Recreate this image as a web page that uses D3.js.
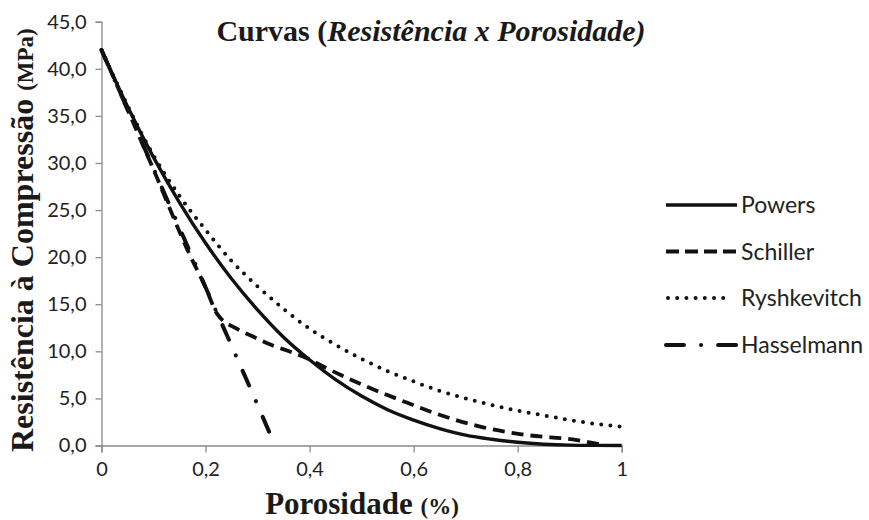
<!DOCTYPE html>
<html>
<head>
<meta charset="utf-8">
<script src="https://cdn.jsdelivr.net/npm/d3@7/dist/d3.min.js"></script>
<style>
  body { margin: 0; background: #fff; }
  svg { display: block; }
</style>
</head>
<body>
<svg id="chart" width="869" height="520"></svg>
<script>
// ---- data ----
const porosity = [0, 0.05, 0.1, 0.15, 0.2, 0.25, 0.3, 0.35, 0.4, 0.45, 0.5, 0.55, 0.6, 0.65, 0.7, 0.75, 0.8, 0.85, 0.9, 0.95, 1];
const powers = [42, 36.0, 30.6, 25.8, 21.5, 17.7, 14.4, 11.5, 9.1, 7.0, 5.25, 3.8, 2.7, 1.8, 1.1, 0.66, 0.34, 0.14, 0.04, 0.01, 0];
const ryshkevitch = [42, 36.1, 30.8, 26.5, 22.9, 19.6, 16.9, 14.5, 12.4, 10.7, 9.2, 7.9, 6.8, 5.8, 5.0, 4.3, 3.7, 3.2, 2.7, 2.3, 2.0];
const schillerP = [0, 0.1, 0.17, 0.2, 0.222, 0.26, 0.292, 0.327, 0.363, 0.395, 0.433, 0.51, 0.574, 0.651, 0.728, 0.818, 0.914, 0.96];
const schiller = [42, 29.3, 20.2, 16.8, 14.0, 12.4, 11.55, 10.67, 9.96, 9.26, 8.2, 6.24, 4.83, 3.24, 2.0, 1.11, 0.58, 0.1];
const hasselmannP = [0, 0.05, 0.1, 0.15, 0.2, 0.25, 0.3, 0.325];
const hasselmann = [42, 35.7, 29.4, 23.1, 16.8, 10.6, 4.3, 1.1];
const yTicks = [0, 5, 10, 15, 20, 25, 30, 35, 40, 45];
const xTicks = [0, 0.2, 0.4, 0.6, 0.8, 1];
const seriesNames = ["Powers", "Schiller", "Ryshkevitch", "Hasselmann"];

const svg = d3.select("#chart");
const x = d3.scaleLinear().domain([0, 1]).range([101.5, 621.7]);
const y = d3.scaleLinear().domain([0, 45]).range([445.5, 21.7]);

const comma = v => String(v).replace(".", ",");

// axes
const yAxis = svg.append("g").attr("transform", `translate(${x(0)},0)`)
  .call(d3.axisLeft(y).tickValues(yTicks).tickSize(6).tickPadding(9)
    .tickFormat(d => d.toFixed(1).replace(".", ",")));
const xAxis = svg.append("g").attr("transform", `translate(0,${y(0)})`)
  .call(d3.axisBottom(x).tickValues(xTicks).tickSize(7).tickPadding(9)
    .tickFormat(d => comma(d)));
[yAxis, xAxis].forEach(g => {
  g.select(".domain").attr("stroke", "#8a8a8a").attr("stroke-width", 1.3);
  g.selectAll(".tick line").attr("stroke", "#8a8a8a").attr("stroke-width", 1.3);
  g.selectAll(".tick text").attr("fill", "#222")
    .style("font-family", "Lato, 'Open Sans', sans-serif").style("font-size", "20px");
});

// series
const styles = {
  Powers: { dash: null, width: 3.4, cap: "butt" },
  Schiller: { dash: "12,7", width: 3.8, cap: "butt" },
  Ryshkevitch: { dash: "0,9.2", width: 4, cap: "round" },
  Hasselmann: { dash: "16,17,0.1,17", width: 4, cap: "round" }
};
const seriesData = {
  Powers: porosity.map((p, i) => [p, powers[i]]),
  Schiller: schillerP.map((p, i) => [p, schiller[i]]),
  Ryshkevitch: porosity.map((p, i) => [p, ryshkevitch[i]]),
  Hasselmann: hasselmannP.map((p, i) => [p, hasselmann[i]])
};
const line = d3.line().x(d => x(d[0])).y(d => y(d[1])).curve(d3.curveMonotoneX);

seriesNames.forEach(name => {
  const s = styles[name];
  svg.append("path").datum(seriesData[name])
    .attr("d", line)
    .attr("fill", "none").attr("stroke", "#111")
    .attr("stroke-width", s.width)
    .attr("stroke-linecap", s.cap)
    .attr("stroke-dasharray", s.dash);
});

// legend
const legendY = [205, 251.5, 298, 345];
seriesNames.forEach((name, i) => {
  const s = styles[name];
  const g = svg.append("g").attr("transform", `translate(0,${legendY[i]})`);
  let dash = s.dash;
  if (name === "Hasselmann") dash = "18,17,0.1,17";
  if (name === "Schiller") dash = "13,6";
  g.append("line").attr("x1", name === "Ryshkevitch" ? 668 : 666).attr("x2", name === "Ryshkevitch" ? 729 : 737)
    .attr("y1", 0).attr("y2", 0)
    .attr("stroke", "#111").attr("stroke-width", s.width)
    .attr("stroke-linecap", s.cap).attr("stroke-dasharray", dash);
  g.append("text").attr("x", 741).attr("y", 0).attr("dy", "0.36em")
    .style("font-family", "Lato, 'Open Sans', sans-serif").style("font-size", "23px")
    .attr("fill", "#222").text(name);
});

// titles
const title = svg.append("text").attr("x", 431).attr("y", 41).attr("text-anchor", "middle")
  .style("font-family", "'Liberation Serif', 'Times New Roman', serif")
  .style("font-weight", "bold").style("font-size", "30px").attr("fill", "#1a1a1a");
title.append("tspan").text("Curvas (");
title.append("tspan").style("font-style", "italic").text("Resistência x Porosidade)");

const xt = svg.append("text").attr("x", 362).attr("y", 514).attr("text-anchor", "middle")
  .style("font-family", "'Liberation Serif', 'Times New Roman', serif")
  .style("font-weight", "bold").attr("fill", "#1a1a1a");
xt.append("tspan").style("font-size", "31px").text("Porosidade ");
xt.append("tspan").style("font-size", "23px").text("(%)");

const yt = svg.append("text").attr("transform", "translate(33,452) rotate(-90)").attr("text-anchor", "start")
  .style("font-family", "'Liberation Serif', 'Times New Roman', serif")
  .style("font-weight", "bold").attr("fill", "#1a1a1a");
yt.append("tspan").style("font-size", "32px").text("Resistência à Compressão ");
yt.append("tspan").style("font-size", "23px").text("(MPa)");
</script>
</body>
</html>
